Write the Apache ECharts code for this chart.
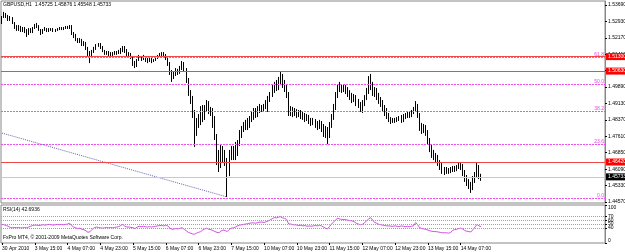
<!DOCTYPE html>
<html>
<head>
<meta charset="utf-8">
<script src="https://cdn.jsdelivr.net/npm/echarts@6/dist/echarts.min.js"></script>
<style>
html, body { margin: 0; padding: 0; background: #fff; }
#chart { width: 625px; height: 252px; }
</style>
</head>
<body>
<div id="chart"></div>
<script>
// GBPUSD H1 bars, each row is [open, close, low, high]
var bars = [
[1.5290,1.5313,1.5281,1.5318],[1.5313,1.5327,1.5309,1.5337],[1.5327,1.5318,1.5309,1.5332],[1.5318,1.5304,1.5295,1.5323],
[1.5304,1.5309,1.5295,1.5318],[1.5309,1.5286,1.5281,1.5313],[1.5286,1.5267,1.5258,1.5290],[1.5267,1.5258,1.5249,1.5276],
[1.5258,1.5267,1.5249,1.5276],[1.5267,1.5253,1.5244,1.5272],[1.5253,1.5262,1.5244,1.5267],[1.5262,1.5249,1.5239,1.5267],
[1.5249,1.5235,1.5221,1.5258],[1.5235,1.5253,1.5230,1.5262],[1.5253,1.5249,1.5239,1.5262],[1.5249,1.5262,1.5239,1.5267],
[1.5262,1.5276,1.5258,1.5281],[1.5276,1.5272,1.5262,1.5286],[1.5272,1.5253,1.5249,1.5276],[1.5253,1.5239,1.5230,1.5258],
[1.5239,1.5253,1.5235,1.5258],[1.5253,1.5258,1.5249,1.5267],[1.5258,1.5249,1.5244,1.5262],[1.5249,1.5253,1.5244,1.5262],
[1.5253,1.5258,1.5249,1.5262],[1.5258,1.5249,1.5244,1.5262],[1.5249,1.5253,1.5244,1.5258],[1.5253,1.5258,1.5249,1.5262],
[1.5258,1.5262,1.5253,1.5267],[1.5262,1.5258,1.5253,1.5267],[1.5258,1.5262,1.5253,1.5267],[1.5262,1.5267,1.5258,1.5272],
[1.5267,1.5262,1.5258,1.5272],[1.5262,1.5272,1.5258,1.5276],[1.5272,1.5239,1.5230,1.5276],[1.5239,1.5225,1.5216,1.5244],
[1.5225,1.5212,1.5202,1.5235],[1.5212,1.5202,1.5193,1.5216],[1.5202,1.5207,1.5193,1.5216],[1.5207,1.5188,1.5179,1.5212],
[1.5188,1.5193,1.5179,1.5202],[1.5193,1.5170,1.5161,1.5198],[1.5170,1.5147,1.5133,1.5175],[1.5147,1.5128,1.5100,1.5156],
[1.5128,1.5151,1.5124,1.5161],[1.5151,1.5165,1.5147,1.5175],[1.5165,1.5184,1.5161,1.5188],[1.5184,1.5188,1.5175,1.5193],
[1.5188,1.5175,1.5165,1.5193],[1.5175,1.5156,1.5151,1.5179],[1.5156,1.5147,1.5138,1.5161],[1.5147,1.5151,1.5138,1.5156],
[1.5151,1.5142,1.5133,1.5156],[1.5142,1.5138,1.5128,1.5151],[1.5138,1.5147,1.5133,1.5151],[1.5147,1.5142,1.5138,1.5156],
[1.5142,1.5151,1.5138,1.5156],[1.5151,1.5147,1.5142,1.5161],[1.5147,1.5161,1.5142,1.5170],[1.5161,1.5175,1.5151,1.5179],
[1.5175,1.5156,1.5147,1.5179],[1.5156,1.5138,1.5133,1.5165],[1.5138,1.5142,1.5128,1.5151],[1.5142,1.5128,1.5119,1.5147],
[1.5128,1.5100,1.5087,1.5133],[1.5100,1.5087,1.5077,1.5110],[1.5087,1.5114,1.5082,1.5119],[1.5114,1.5128,1.5110,1.5138],
[1.5128,1.5119,1.5110,1.5133],[1.5119,1.5128,1.5114,1.5138],[1.5128,1.5114,1.5105,1.5133],[1.5114,1.5110,1.5100,1.5124],
[1.5110,1.5119,1.5105,1.5124],[1.5119,1.5110,1.5100,1.5124],[1.5110,1.5114,1.5105,1.5119],[1.5114,1.5124,1.5110,1.5128],
[1.5124,1.5133,1.5119,1.5138],[1.5133,1.5138,1.5128,1.5147],[1.5138,1.5147,1.5133,1.5151],[1.5147,1.5138,1.5128,1.5151],
[1.5138,1.5124,1.5114,1.5142],[1.5124,1.5096,1.5087,1.5128],[1.5096,1.5059,1.5045,1.5105],[1.5059,1.5036,1.5013,1.5068],
[1.5036,1.5050,1.5026,1.5063],[1.5050,1.5063,1.5040,1.5077],[1.5063,1.5054,1.5045,1.5073],[1.5054,1.5077,1.5050,1.5087],
[1.5077,1.5096,1.5068,1.5110],[1.5096,1.5068,1.5059,1.5105],[1.5068,1.5022,1.5008,1.5077],[1.5022,1.4966,1.4948,1.5031],
[1.4966,1.4929,1.4911,1.4975],[1.4929,1.4874,1.4846,1.4948],[1.4874,1.4781,1.4712,1.4883],[1.4781,1.4818,1.4763,1.4846],
[1.4818,1.4846,1.4800,1.4864],[1.4846,1.4874,1.4813,1.4901],[1.4874,1.4846,1.4827,1.4906],[1.4846,1.4892,1.4837,1.4906],
[1.4892,1.4911,1.4874,1.4929],[1.4911,1.4883,1.4864,1.4924],[1.4883,1.4869,1.4855,1.4897],[1.4869,1.4846,1.4800,1.4892],
[1.4846,1.4758,1.4744,1.4855],[1.4758,1.4675,1.4628,1.4772],[1.4675,1.4628,1.4596,1.4698],[1.4628,1.4698,1.4614,1.4721],
[1.4698,1.4661,1.4638,1.4716],[1.4661,1.4642,1.4624,1.4698],[1.4642,1.4587,1.4480,1.4661],[1.4587,1.4670,1.4577,1.4698],
[1.4670,1.4698,1.4651,1.4716],[1.4698,1.4665,1.4651,1.4716],[1.4665,1.4698,1.4651,1.4735],[1.4698,1.4730,1.4670,1.4744],
[1.4730,1.4763,1.4716,1.4790],[1.4763,1.4790,1.4753,1.4809],[1.4790,1.4804,1.4781,1.4827],[1.4804,1.4818,1.4790,1.4837],
[1.4818,1.4809,1.4790,1.4846],[1.4809,1.4837,1.4800,1.4855],[1.4837,1.4846,1.4827,1.4874],[1.4846,1.4874,1.4837,1.4892],
[1.4874,1.4860,1.4846,1.4892],[1.4860,1.4883,1.4850,1.4901],[1.4883,1.4892,1.4869,1.4911],[1.4892,1.4883,1.4874,1.4906],
[1.4883,1.4897,1.4874,1.4911],[1.4897,1.4911,1.4887,1.4929],[1.4911,1.4929,1.4874,1.4948],[1.4929,1.4952,1.4920,1.4966],
[1.4952,1.4975,1.4943,1.4999],[1.4975,1.4999,1.4962,1.5013],[1.4999,1.4985,1.4971,1.5022],[1.4985,1.5013,1.4975,1.5036],
[1.5013,1.5031,1.4999,1.5059],[1.5031,1.4999,1.4985,1.5050],[1.4999,1.4985,1.4966,1.5022],[1.4985,1.4952,1.4938,1.5003],
[1.4952,1.4874,1.4855,1.4966],[1.4874,1.4883,1.4855,1.4901],[1.4883,1.4869,1.4850,1.4897],[1.4869,1.4878,1.4855,1.4892],
[1.4878,1.4864,1.4846,1.4887],[1.4864,1.4874,1.4850,1.4883],[1.4874,1.4855,1.4841,1.4883],[1.4855,1.4860,1.4837,1.4874],
[1.4860,1.4846,1.4827,1.4869],[1.4846,1.4850,1.4832,1.4864],[1.4850,1.4837,1.4818,1.4860],[1.4837,1.4827,1.4809,1.4846],
[1.4827,1.4832,1.4813,1.4846],[1.4832,1.4818,1.4800,1.4841],[1.4818,1.4809,1.4790,1.4832],[1.4809,1.4823,1.4795,1.4837],
[1.4823,1.4804,1.4781,1.4832],[1.4804,1.4781,1.4758,1.4818],[1.4781,1.4790,1.4753,1.4809],[1.4790,1.4763,1.4725,1.4804],
[1.4763,1.4809,1.4753,1.4827],[1.4809,1.4846,1.4800,1.4864],[1.4846,1.4892,1.4837,1.4911],[1.4892,1.4948,1.4883,1.4966],
[1.4948,1.4985,1.4938,1.5003],[1.4985,1.4994,1.4966,1.5013],[1.4994,1.4980,1.4962,1.5003],[1.4980,1.4989,1.4966,1.5003],
[1.4989,1.4975,1.4957,1.4999],[1.4975,1.4962,1.4943,1.4989],[1.4962,1.4948,1.4929,1.4975],[1.4948,1.4934,1.4915,1.4962],
[1.4934,1.4943,1.4920,1.4957],[1.4943,1.4920,1.4901,1.4952],[1.4920,1.4906,1.4892,1.4934],[1.4906,1.4892,1.4874,1.4920],
[1.4892,1.4911,1.4869,1.4929],[1.4911,1.4938,1.4901,1.4952],[1.4938,1.4966,1.4929,1.4985],[1.4966,1.5022,1.4957,1.5040],
[1.5022,1.4999,1.4975,1.5050],[1.4999,1.4966,1.4948,1.5013],[1.4966,1.4975,1.4943,1.4989],[1.4975,1.4948,1.4929,1.4985],
[1.4948,1.4929,1.4911,1.4962],[1.4929,1.4915,1.4897,1.4943],[1.4915,1.4892,1.4874,1.4929],[1.4892,1.4878,1.4855,1.4906],
[1.4878,1.4855,1.4841,1.4892],[1.4855,1.4841,1.4827,1.4869],[1.4841,1.4832,1.4818,1.4850],[1.4832,1.4837,1.4823,1.4846],
[1.4837,1.4832,1.4823,1.4846],[1.4832,1.4837,1.4827,1.4850],[1.4837,1.4846,1.4832,1.4855],[1.4846,1.4832,1.4823,1.4860],
[1.4832,1.4850,1.4827,1.4864],[1.4850,1.4855,1.4841,1.4869],[1.4855,1.4864,1.4846,1.4878],[1.4864,1.4855,1.4846,1.4878],
[1.4855,1.4874,1.4850,1.4883],[1.4874,1.4883,1.4864,1.4897],[1.4883,1.4901,1.4874,1.4924],[1.4901,1.4860,1.4846,1.4911],
[1.4860,1.4809,1.4786,1.4869],[1.4809,1.4790,1.4772,1.4823],[1.4790,1.4800,1.4776,1.4818],[1.4800,1.4781,1.4763,1.4813],
[1.4781,1.4744,1.4725,1.4790],[1.4744,1.4707,1.4688,1.4753],[1.4707,1.4688,1.4661,1.4721],[1.4688,1.4670,1.4651,1.4698],
[1.4670,1.4661,1.4642,1.4684],[1.4661,1.4642,1.4624,1.4675],[1.4642,1.4624,1.4605,1.4651],[1.4624,1.4605,1.4587,1.4638],
[1.4605,1.4596,1.4582,1.4619],[1.4596,1.4610,1.4587,1.4619],[1.4610,1.4600,1.4587,1.4614],[1.4600,1.4605,1.4591,1.4619],
[1.4605,1.4614,1.4596,1.4624],[1.4614,1.4610,1.4596,1.4624],[1.4610,1.4619,1.4600,1.4628],[1.4619,1.4633,1.4610,1.4642],
[1.4633,1.4624,1.4605,1.4642],[1.4624,1.4596,1.4577,1.4633],[1.4596,1.4568,1.4550,1.4605],[1.4568,1.4550,1.4531,1.4582],
[1.4550,1.4536,1.4517,1.4563],[1.4536,1.4522,1.4499,1.4550],[1.4522,1.4559,1.4512,1.4577],[1.4559,1.4577,1.4545,1.4596],
[1.4577,1.4614,1.4568,1.4638],[1.4614,1.4573,1.4563,1.4628],[1.45725,1.45733,1.45548,1.45876]
];

var rsi = [
49,48,46,44,41,40,41,40,41,40,40,41,40,42,44,46,47,47,
46,47,48,47,48,49,48,47,48,49,48,49,48,49,50,52,
46,42,40,38,39,36,35,32,28,30,36,40,42,41,40,39,
40,41,40,41,40,41,42,43,46,49,44,42,42,41,40,
38,42,44,43,44,43,42,43,42,43,44,45,46,46,45,
47,45,39,36,37,38,37,39,40,36,32,28,26,24,23,26,28,
30,34,37,39,36,35,33,30,28,27,32,34,33,30,36,39,40,
42,45,47,48,49,50,51,52,53,53,52,54,55,55,54,56,
58,61,64,67,66,68,69,66,65,62,50,50,48,
48,47,46,47,45,46,44,45,44,45,46,45,47,45,42,39,37,
44,50,56,61,65,63,62,62,61,60,59,58,56,52,50,48,49,53,
58,63,67,60,54,52,49,48,47,46,45,45,44,
44,45,44,43,45,44,43,44,43,44,45,54,48,
40,38,37,36,34,32,31,30,30,29,28,27,27,27,26,27,
33,35,36,38,39,37,33,31,30,29,35,42,49,45,42.6936
];

var slotCount = 295;
var barsPerLabel = 16;
var timeLabels = ['30 Apr 2010', '3 May 15:00', '4 May 07:00', '4 May 23:00', '5 May 15:00',
  '6 May 07:00', '6 May 23:00', '7 May 15:00', '10 May 07:00', '10 May 23:00', '11 May 15:00',
  '12 May 07:00', '12 May 23:00', '13 May 15:00', '14 May 07:00'];
var priceTicks = [1.5369, 1.5293, 1.5217, 1.5141, 1.5065, 1.4989, 1.4913, 1.4837,
  1.4761, 1.4685, 1.4609, 1.4533, 1.4457];
var rsiTicks = [0, 40, 50, 60, 70, 100];
var rsiLevels = [70, 60, 50, 40];
var fibLevels = [0, 23.6, 38.2, 50, 61.8];
var fibLow = 1.4475, fibHigh = 1.5532;
var redLevels = [1.5130, 1.5063, 1.4642];
var trendStart = [0, 1.4776], trendEnd = [110, 1.4480];
var priceMin = 1.44523, priceMax = 1.53875;

var FONT = 'Liberation Sans';
var slots = [];
for (var i = 0; i < slotCount; i++) slots.push(String(i));
var last = bars[bars.length - 1];

function showTick(index) {
  return index % barsPerLabel === 0 && index / barsPerLabel < timeLabels.length;
}

// helper: an empty series that only carries horizontal/diagonal guide lines
function guide(name, lineStyle, data, z) {
  return {
    name: name, type: 'line', xAxisIndex: 0, yAxisIndex: 0, data: [], z: z || 1,
    markLine: { silent: true, symbol: ['none', 'none'], animation: false, precision: 5,
      lineStyle: lineStyle, data: data }
  };
}

var fibData = fibLevels.map(function (lv) {
  return {
    yAxis: fibLow + (fibHigh - fibLow) * lv / 100,
    label: { show: true, position: 'insideEndTop', formatter: lv.toFixed(1), color: '#ee44ee',
      fontSize: 5, fontFamily: FONT, distance: [1, 0] }
  };
});
var redData = redLevels.map(function (v) {
  return {
    yAxis: v,
    label: { show: true, position: 'end', formatter: v.toFixed(5), color: '#fff', backgroundColor: '#ff0000',
      fontSize: 5, fontFamily: FONT, padding: [1, 2], distance: 1 }
  };
});
var bidData = [{
  yAxis: last[1],
  label: { show: true, position: 'end', formatter: last[1].toFixed(5), color: '#fff', backgroundColor: '#000',
    fontSize: 5, fontFamily: FONT, padding: [1, 2], distance: 1 }
}];
var trendData = [[{ coord: trendStart }, { coord: trendEnd }]];

var chart = echarts.init(document.getElementById('chart'), null, { renderer: 'canvas' });
chart.setOption({
  animation: false,
  backgroundColor: '#ffffff',
  textStyle: { fontFamily: FONT },
  title: [
    { text: 'GBPUSD,H1  ' + [last[0], last[3], last[2], last[1]].map(function (v) { return v.toFixed(5); }).join(' '),
      left: 3, top: 2, padding: 0, textStyle: { fontSize: 5, fontWeight: 'normal', color: '#000', fontFamily: FONT } },
    { text: 'RSI(14) ' + rsi[rsi.length - 1].toFixed(4),
      left: 3, top: 207, padding: 0, textStyle: { fontSize: 5, fontWeight: 'normal', color: '#000', fontFamily: FONT } },
    { text: 'FxPro MT4, \u00a9 2001-2009 MetaQuotes Software Corp.',
      left: 3, top: 235, padding: 0, textStyle: { fontSize: 5, fontWeight: 'normal', color: '#000', fontFamily: FONT } }
  ],
  grid: [
    { left: 1, top: 1, width: 604, height: 202, show: true, borderColor: '#888', borderWidth: 1, outerBoundsMode: 'none' },
    { left: 1, top: 205, width: 604, height: 38, show: true, borderColor: '#888', borderWidth: 1, outerBoundsMode: 'none' }
  ],
  xAxis: [
    { type: 'category', gridIndex: 0, data: slots, boundaryGap: true,
      axisLine: { show: false }, axisTick: { show: false }, axisLabel: { show: false }, splitLine: { show: false } },
    { type: 'category', gridIndex: 1, data: slots, boundaryGap: true,
      axisLine: { show: false },
      axisTick: { show: true, alignWithLabel: true, interval: showTick, length: 2, lineStyle: { color: '#000' } },
      axisLabel: { show: true, interval: showTick, align: 'left', fontSize: 5, color: '#000', fontFamily: FONT, margin: 3,
        formatter: function (v, idx) { return timeLabels[idx / barsPerLabel] || ''; } },
      splitLine: { show: false } }
  ],
  yAxis: [
    { type: 'value', gridIndex: 0, position: 'right', min: priceMin, max: priceMax,
      axisLine: { show: true, lineStyle: { color: '#888' } },
      axisTick: { show: true, length: 2, customValues: priceTicks, lineStyle: { color: '#000' } },
      axisLabel: { show: true, customValues: priceTicks, fontSize: 5, color: '#000', fontFamily: FONT, margin: 3,
        formatter: function (v) { return v.toFixed(5); } },
      splitLine: { show: false } },
    { type: 'value', gridIndex: 1, position: 'right', min: 0, max: 100,
      axisLine: { show: true, lineStyle: { color: '#888' } },
      axisTick: { show: true, length: 2, customValues: rsiTicks, lineStyle: { color: '#000' } },
      axisLabel: { show: true, customValues: rsiTicks, fontSize: 5, color: '#000', fontFamily: FONT, margin: 3,
        verticalAlignMinLabel: 'bottom', verticalAlignMaxLabel: 'top' },
      splitLine: { show: false } }
  ],
  series: [
    guide('fib', { color: '#f050f0', type: [2, 1], width: 1 }, fibData, 1),
    guide('trend', { color: '#6666aa', type: [1, 1], width: 1 }, trendData, 1),
    guide('bid', { color: '#c8c8c8', type: 'solid', width: 1 }, bidData, 1),
    guide('levels', { color: '#f04848', type: 'solid', width: 1 }, redData, 2),
    { type: 'candlestick', xAxisIndex: 0, yAxisIndex: 0, data: bars, barWidth: 1, z: 3,
      itemStyle: { color: '#ffffff', color0: '#000000', borderColor: '#000000', borderColor0: '#000000', borderWidth: 1 } },
    { type: 'line', xAxisIndex: 1, yAxisIndex: 1, data: rsi, showSymbol: false, symbol: 'none',
      lineStyle: { color: '#cc55dd', width: 1 },
      markLine: { silent: true, symbol: ['none', 'none'], animation: false,
        lineStyle: { color: '#a0a0a0', type: [1, 1], width: 1 }, label: { show: false },
        data: rsiLevels.map(function (v) { return { yAxis: v }; }) } }
  ]
});
</script>
</body>
</html>
